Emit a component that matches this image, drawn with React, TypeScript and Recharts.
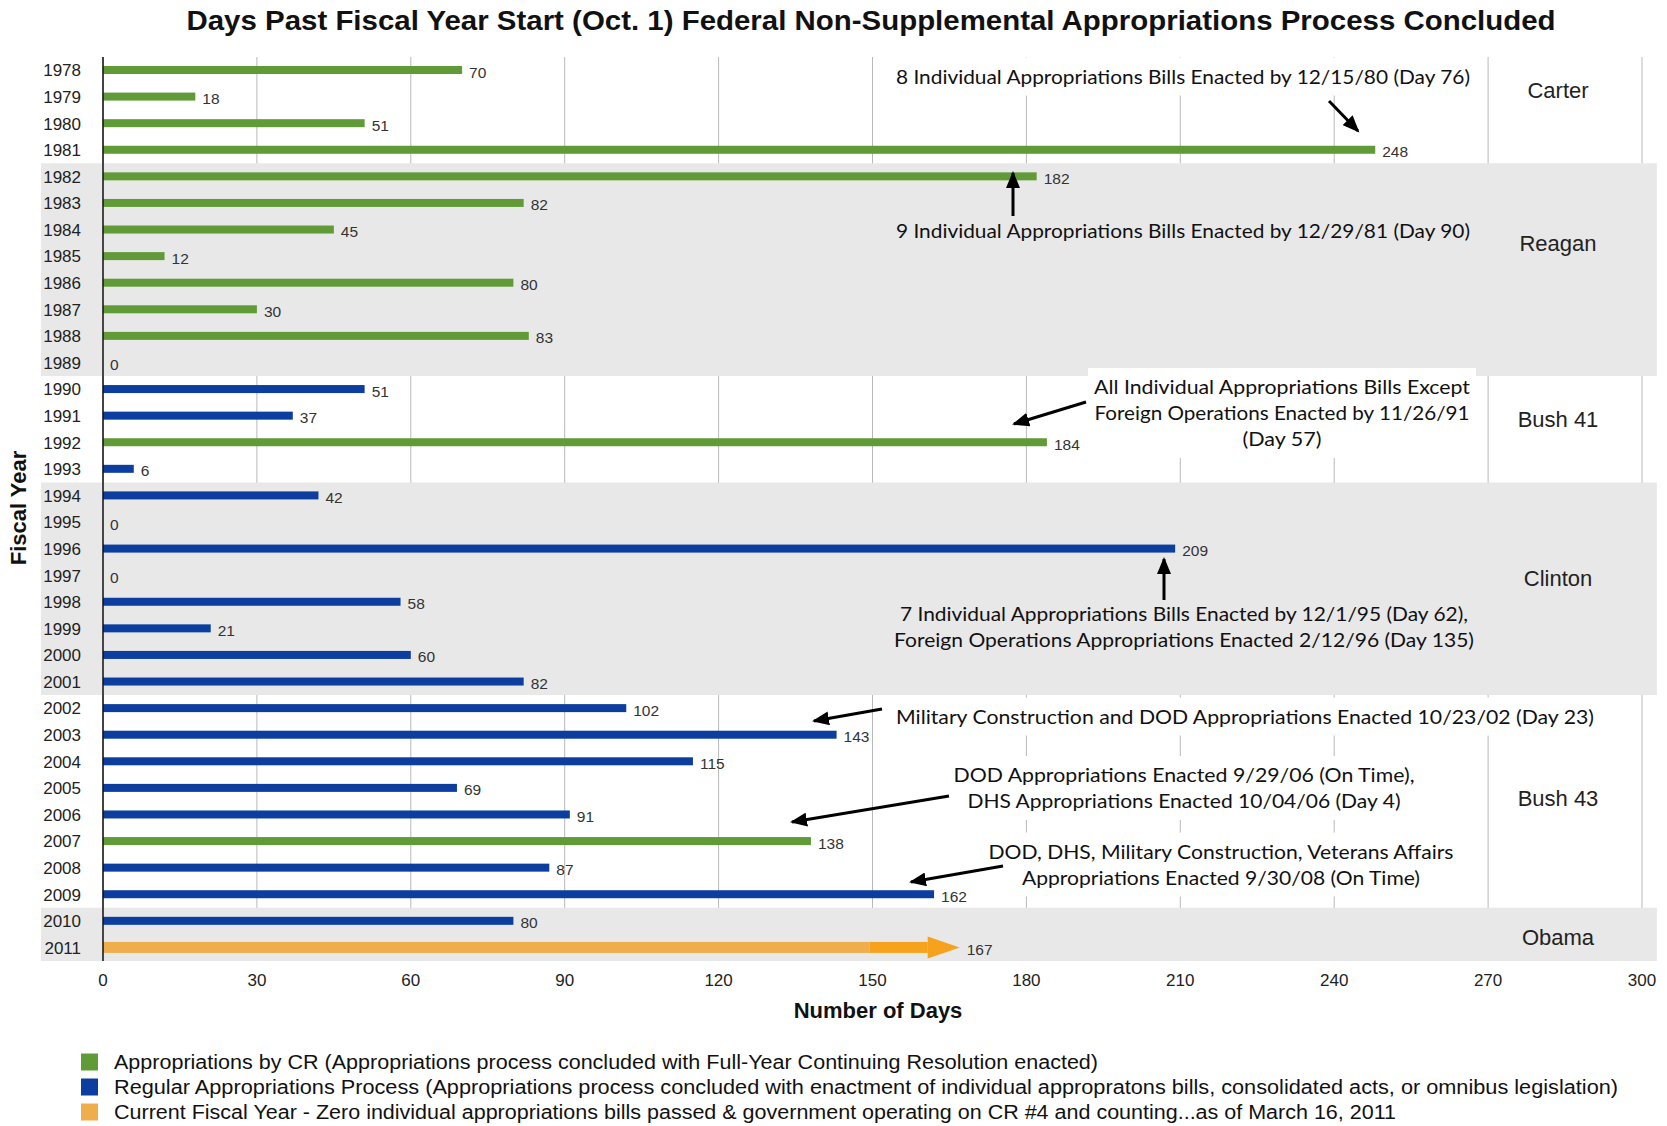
import React from 'react';
import { BarChart, Bar, XAxis, YAxis, CartesianGrid, LabelList, ReferenceArea } from 'recharts';

// ---------- data ----------
const YEARS = [
  '1978', '1979', '1980', '1981', '1982', '1983', '1984', '1985', '1986', '1987', '1988', '1989',
  '1990', '1991', '1992', '1993', '1994', '1995', '1996', '1997', '1998', '1999', '2000', '2001',
  '2002', '2003', '2004', '2005', '2006', '2007', '2008', '2009', '2010', '2011',
];
const DAYS = [
  70, 18, 51, 248, 182, 82, 45, 12, 80, 30, 83, 0,
  51, 37, 184, 6, 42, 0, 209, 0, 58, 21, 60, 82,
  102, 143, 115, 69, 91, 138, 87, 162, 80, 167,
];
// cr = full-year continuing resolution, regular = regular process, current = current fiscal year
const PROCESS = [
  'cr', 'cr', 'cr', 'cr', 'cr', 'cr', 'cr', 'cr', 'cr', 'cr', 'cr', 'regular',
  'regular', 'regular', 'cr', 'regular', 'regular', 'regular', 'regular', 'regular', 'regular', 'regular', 'regular', 'regular',
  'regular', 'regular', 'regular', 'regular', 'regular', 'cr', 'regular', 'regular', 'regular', 'current',
];
const X_TICKS = [0, 30, 60, 90, 120, 150, 180, 210, 240, 270, 300];
// shaded presidential terms (first and last fiscal year rows)
const SHADED_TERMS = [
  { from: '1982', to: '1989' },
  { from: '1994', to: '2001' },
  { from: '2010', to: '2011' },
];
const LEGEND = [
  { kind: 'cr', width: 984, text: 'Appropriations by CR (Appropriations process concluded with Full-Year Continuing Resolution enacted)' },
  { kind: 'regular', width: 1504, text: 'Regular Appropriations Process (Appropriations process concluded with enactment of individual appropratons bills, consolidated acts, or omnibus legislation)' },
  { kind: 'current', width: 1282, text: 'Current Fiscal Year - Zero individual appropriations bills passed & government operating on CR #4 and counting...as of March 16, 2011' },
];

const COLORS: Record<string, string> = {
  cr: '#619b38',
  regular: '#0c3e9f',
  current: '#efad4b',
};
const ARROW_TIP = '#f6a21c';
const BAND = '#e8e8e8';

// ---------- layout ----------
const W = 1667;
const H = 1126;
const CHART_H = 1040;
const MARGIN = { top: 57, right: 25, bottom: 49, left: 40 };
const YAXIS_W = 63;

const PRESIDENT_LABELS = [
  { name: 'Carter', y: 90 },
  { name: 'Reagan', y: 243 },
  { name: 'Bush 41', y: 419 },
  { name: 'Clinton', y: 578 },
  { name: 'Bush 43', y: 798 },
  { name: 'Obama', y: 937 },
];

const ANNOTATIONS = [
  {
    lines: ['8 Individual Appropriations Bills Enacted by 12/15/80 (Day 76)'],
    widths: [574], cx: 1183, y0: 76.5, box: '#ffffff', arrow: [1329, 101, 1358, 131],
  },
  {
    lines: ['9 Individual Appropriations Bills Enacted by 12/29/81 (Day 90)'],
    widths: [574], cx: 1183, y0: 231, box: BAND, arrow: [1013, 216, 1013, 173],
  },
  {
    lines: ['All Individual Appropriations Bills Except', 'Foreign Operations Enacted by 11/26/91', '(Day 57)'],
    widths: [376, 375, 79], cx: 1282, y0: 387, box: '#ffffff', arrow: [1086, 402, 1014, 424],
  },
  {
    lines: ['7 Individual Appropriations Bills Enacted by 12/1/95 (Day 62),', 'Foreign Operations Appropriations Enacted 2/12/96 (Day 135)'],
    widths: [568, 580], cx: 1184, y0: 614, box: BAND, arrow: [1164, 600, 1164, 559],
  },
  {
    lines: ['Military Construction and DOD Appropriations Enacted 10/23/02 (Day 23)'],
    widths: [698], cx: 1245, y0: 716.5, box: '#ffffff', arrow: [882, 709, 814, 721],
  },
  {
    lines: ['DOD Appropriations Enacted 9/29/06 (On Time),', 'DHS Appropriations Enacted 10/04/06 (Day 4)'],
    widths: [461, 433], cx: 1184, y0: 775, box: '#ffffff', arrow: [949, 796, 792, 822],
  },
  {
    lines: ['DOD, DHS, Military Construction, Veterans Affairs', 'Appropriations Enacted 9/30/08 (On Time)'],
    widths: [465, 398], cx: 1221, y0: 851.5, box: '#ffffff', arrow: [1003, 866, 911, 882],
  },
];
const LINE_H = 26;

const renderBar = (props: any) => {
  const { x, y, width, height, payload } = props;
  const color = COLORS[payload.kind];
  if (payload.kind === 'current') {
    const cy = y + height / 2;
    const headLen = 32;
    const headH = 22;
    const bodyH = 11;
    const tip = x + width;
    const headStart = tip - headLen;
    const brightStart = headStart - 58;
    return (
      <g>
        <rect x={x} y={cy - bodyH / 2} width={Math.max(0, brightStart - x)} height={bodyH} fill={color} />
        <rect x={brightStart} y={cy - bodyH / 2} width={headStart - brightStart} height={bodyH} fill={ARROW_TIP} />
        <polygon points={`${headStart},${cy - headH / 2} ${tip},${cy} ${headStart},${cy + headH / 2}`} fill={ARROW_TIP} />
      </g>
    );
  }
  return <rect x={x} y={y} width={Math.max(0, width)} height={height} fill={color} />;
};

export default function App() {
  const data = YEARS.map((year, i) => ({ year, days: DAYS[i], kind: PROCESS[i] }));
  const bandLeftDays = -12.1;
  const bandRightDays = 302.9;

  return (
    <div
      style={{
        position: 'absolute', left: 0, top: 0, width: W, height: H, background: '#ffffff',
        fontFamily: '"Liberation Sans", Arial, Helvetica, sans-serif',
      }}
    >
      <BarChart
        width={W}
        height={CHART_H}
        data={data}
        layout="vertical"
        margin={MARGIN}
        barCategoryGap={0}
      >
        {SHADED_TERMS.map((t, i) => (
          <ReferenceArea
            key={i}
            y1={t.from}
            y2={t.to}
            x1={bandLeftDays}
            x2={bandRightDays}
            ifOverflow="visible"
            fill={BAND}
            fillOpacity={1}
            stroke="none"
          />
        ))}
        <CartesianGrid horizontal={false} stroke="#b9b9b9" strokeWidth={1} />
        <XAxis
          type="number"
          domain={[0, 300]}
          ticks={X_TICKS}
          interval={0}
          axisLine={false}
          tickLine={false}
          tickSize={0}
          tickMargin={13}
          height={30}
          tick={{ fontSize: 17, fill: '#222' }}
        />
        <YAxis
          type="category"
          dataKey="year"
          width={YAXIS_W}
          interval={0}
          axisLine={{ stroke: '#111', strokeWidth: 1.5 }}
          tickLine={false}
          tickSize={0}
          tickMargin={22}
          tick={{ fontSize: 17, fill: '#222' }}
        />
        <Bar dataKey="days" barSize={8} isAnimationActive={false} shape={renderBar}>
          <LabelList dataKey="days" position="right" offset={7} fill="#333" fontSize={15.5} dy={2} />
        </Bar>
      </BarChart>

      <svg
        width={W}
        height={H}
        style={{ position: 'absolute', left: 0, top: 0, pointerEvents: 'none' }}
      >
        <defs>
          <marker id="ah" markerUnits="userSpaceOnUse" markerWidth={18} markerHeight={14} refX={15} refY={7} orient="auto">
            <path d="M0,0 L17,7 L0,14 z" fill="#000" />
          </marker>
        </defs>

        {/* title */}
        <text x={871} y={21} dy="0.35em" textAnchor="middle" fontSize={27} fontWeight="bold" fill="#111"
          textLength={1369} lengthAdjust="spacingAndGlyphs">
          Days Past Fiscal Year Start (Oct. 1) Federal Non-Supplemental Appropriations Process Concluded
        </text>

        {/* axis titles */}
        <text x={878} y={1010} dy="0.35em" textAnchor="middle" fontSize={22} fontWeight="bold" fill="#111">
          Number of Days
        </text>
        <text x={18} y={508} dy="0.35em" textAnchor="middle" fontSize={22} fontWeight="bold" fill="#111" transform="rotate(-90 18 508)">
          Fiscal Year
        </text>

        {/* annotations */}
        {ANNOTATIONS.map((a, i) => {
          const maxW = Math.max(...a.widths);
          return (
            <g key={i}>
              <rect
                x={a.cx - maxW / 2 - 6}
                y={a.y0 - 19}
                width={maxW + 12}
                height={(a.lines.length - 1) * LINE_H + 38}
                fill={a.box}
              />
              {a.lines.map((ln, j) => (
                <text
                  key={j}
                  x={a.cx}
                  y={a.y0 + j * LINE_H}
                  dy="0.35em"
                  textAnchor="middle"
                  fontFamily="Lato, 'Open Sans', sans-serif"
                  fontSize={20}
                  fill="#111"
                  textLength={a.widths[j]}
                  lengthAdjust="spacingAndGlyphs"
                >
                  {ln}
                </text>
              ))}
              <line
                x1={a.arrow[0]}
                y1={a.arrow[1]}
                x2={a.arrow[2]}
                y2={a.arrow[3]}
                stroke="#000"
                strokeWidth={3}
                markerEnd="url(#ah)"
              />
            </g>
          );
        })}

        {/* president labels */}
        {PRESIDENT_LABELS.map((p) => (
          <text key={p.name} x={1558} y={p.y} dy="0.35em" textAnchor="middle" fontSize={22} fill="#222">
            {p.name}
          </text>
        ))}

        {/* legend */}
        {LEGEND.map((l, i) => {
          const cy = 1062 + i * 25;
          return (
            <g key={l.kind}>
              <rect x={81} y={cy - 8.5} width={17} height={17} fill={COLORS[l.kind]} />
              <text x={114} y={cy} dy="0.35em" fontSize={20} fill="#111"
                textLength={l.width} lengthAdjust="spacingAndGlyphs">
                {l.text}
              </text>
            </g>
          );
        })}
      </svg>
    </div>
  );
}
